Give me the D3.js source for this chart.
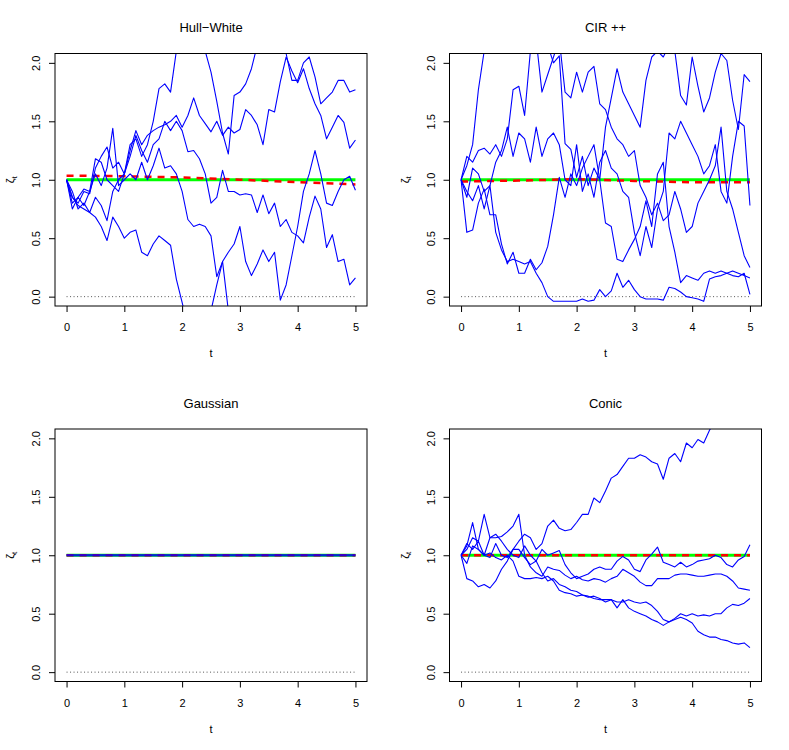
<!DOCTYPE html>
<html>
<head>
<meta charset="UTF-8">
<title>Simulated paths of the state-price deflator</title>
<script src="https://d3js.org/d3.v7.min.js"></script>
<style>
  body { margin: 0; background: #fff; }
  text { font-family: "Liberation Sans", Arial, Helvetica, sans-serif; fill: #000; }
  .tick text { font-size: 11px; }
  .title { font-size: 13px; text-anchor: middle; }
  .axis-label { font-size: 11px; }
</style>
</head>
<body>
<div id="chart"></div>
<script>
// time grid of the simulated paths
const times = [0, 0.1, 0.2, 0.3, 0.4, 0.5, 0.6, 0.7, 0.8, 0.9,
               1.0, 1.1, 1.2, 1.3, 1.4, 1.5, 1.6, 1.7, 1.8, 1.9,
               2.0, 2.1, 2.2, 2.3, 2.4, 2.5, 2.6, 2.7, 2.8, 2.9,
               3.0, 3.1, 3.2, 3.3, 3.4, 3.5, 3.6, 3.7, 3.8, 3.9,
               4.0, 4.1, 4.2, 4.3, 4.4, 4.5, 4.6, 4.7, 4.8, 4.9, 5.0];
const meanTimes = [0, 1, 2, 3, 4, 5];
const flatTimes = [0, 5];

const xTicks = [0, 1, 2, 3, 4, 5];
const yTicks = [0, 0.5, 1, 1.5, 2];

// Hull-White
const hullWhite1 = [1.0, 0.85, 0.8, 0.9, 0.88, 1.1, 1.2, 1.28, 1.1, 1.15, 1.05, 1.3, 1.35, 1.2, 1.3, 1.5, 1.78, 1.82, 1.75, 2.1, 2.4, 2.5, 2.45, 2.3, 2.1, 1.92, 1.67, 1.4, 1.22, 1.72, 1.75, 1.82, 1.95, 2.15, 2.3, 2.35, 2.25, 2.15, 2.08, 1.85, 1.85, 2.0, 2.05, 1.88, 1.65, 1.7, 1.75, 1.85, 1.85, 1.75, 1.77];
const hullWhite2 = [1.0, 0.8, 0.85, 0.78, 0.9, 1.18, 1.15, 1.0, 0.95, 0.9, 1.05, 1.25, 1.42, 1.3, 1.38, 1.42, 1.45, 1.47, 1.5, 1.55, 1.45, 1.55, 1.7, 1.55, 1.48, 1.41, 1.5, 1.38, 1.45, 1.4, 1.43, 1.6, 1.55, 1.47, 1.3, 1.6, 1.58, 1.84, 2.05, 1.93, 1.83, 1.95, 1.78, 1.65, 1.55, 1.35, 1.45, 1.55, 1.49, 1.27, 1.34];
const hullWhite3 = [1.0, 0.9, 0.75, 0.8, 0.72, 0.85, 0.78, 0.65, 0.9, 1.0, 1.05, 1.2, 1.38, 1.25, 1.15, 1.3, 1.35, 1.5, 1.42, 1.5, 1.42, 1.24, 1.25, 1.18, 1.05, 0.8, 0.85, 1.08, 0.9, 0.9, 0.87, 0.88, 0.87, 0.72, 0.87, 0.71, 0.8, 0.6, 0.66, 0.55, 0.52, 0.46, 0.68, 0.86, 0.75, 0.42, 0.53, 0.3, 0.32, 0.1, 0.16];
const hullWhite4 = [1.0, 0.75, 0.85, 0.92, 0.9, 1.05, 0.95, 1.1, 1.44, 0.95, 1.0, 1.05, 1.0, 1.15, 1.0, 1.12, 1.27, 1.1, 1.12, 1.05, 0.9, 0.66, 0.6, 0.62, 0.6, 0.52, 0.17, 0.3, -0.12, -0.3, -0.42, -0.5, -0.45, -0.6, -0.7, -0.65, -0.8, -0.9, -0.85, -0.95, -1.0, -1.1, -1.05, -1.2, -1.15, -1.3, -1.25, -1.4, -1.35, -1.45, -1.5];
const hullWhite5 = [1.0, 0.85, 0.78, 0.75, 0.72, 0.68, 0.6, 0.48, 0.68, 0.6, 0.5, 0.55, 0.57, 0.38, 0.35, 0.45, 0.52, 0.48, 0.44, 0.15, -0.05, -0.25, -0.35, -0.3, -0.25, -0.12, 0.1, 0.3, 0.38, 0.45, 0.6, 0.3, 0.18, 0.28, 0.4, 0.3, 0.38, -0.03, 0.1, 0.35, 0.6, 0.9, 1.05, 1.25, 1.05, 0.8, 0.78, 0.9, 1.0, 1.03, 0.91];
const hullWhiteMean = [1.035, 1.03, 1.02, 1.0, 0.98, 0.96];

// CIR ++
const cir1 = [1.0, 1.12, 1.3, 1.77, 2.1, 2.3, 2.45, 2.55, 2.5, 2.4, 2.45, 2.35, 2.3, 2.2, 2.25, 2.15, 2.0, 2.06, 1.31, 1.26, 1.02, 1.2, 0.95, 1.1, 1.0, 1.45, 1.7, 1.95, 1.75, 1.65, 1.55, 1.45, 1.85, 2.05, 2.1, 2.05, 2.15, 2.1, 1.72, 1.64, 2.05, 1.8, 1.58, 1.7, 1.92, 2.08, 2.02, 1.68, 1.43, 1.9, 1.84];
const cir2 = [1.0, 1.2, 1.15, 1.25, 1.27, 1.22, 1.3, 1.2, 1.35, 1.77, 1.8, 1.55, 2.1, 2.2, 1.75, 1.9, 2.05, 2.2, 1.75, 1.7, 1.92, 1.75, 1.92, 1.97, 1.65, 1.6, 1.45, 1.35, 1.3, 1.2, 1.25, 0.95, 0.85, 0.7, 0.8, 0.65, 0.7, 0.9, 0.75, 0.55, 0.6, 0.8, 0.9, 1.0, 1.12, 1.45, 0.9, 0.75, 0.55, 0.35, 0.25];
const cir3 = [1.0, 0.85, 1.1, 1.05, 0.9, 0.95, 1.15, 1.25, 1.45, 1.2, 1.4, 1.35, 1.15, 1.45, 1.2, 1.35, 1.4, 1.3, 1.0, 0.95, 1.3, 0.9, 1.05, 0.85, 1.15, 1.25, 1.1, 1.05, 0.9, 0.85, 0.55, 0.35, 0.6, 0.42, 0.75, 0.9, 1.4, 1.35, 1.5, 1.4, 1.3, 1.2, 1.05, 1.12, 1.3, 0.9, 0.8, 1.2, 1.5, 1.46, 0.78];
const cir4 = [1.0, 0.9, 0.82, 0.95, 0.75, 0.95, 0.55, 0.4, 0.3, 0.32, 0.3, 0.28, 0.3, 0.2, 0.12, 0.0, -0.04, -0.04, -0.04, -0.04, -0.04, -0.02, -0.04, -0.03, 0.06, 0.0, 0.05, 0.2, 0.08, 0.14, 0.06, 0.0, -0.02, -0.02, -0.02, -0.03, 0.08, 0.07, 0.04, 0.0, -0.01, -0.02, -0.04, 0.15, 0.17, 0.18, 0.2, 0.18, 0.17, 0.2, 0.02];
const cir5 = [1.0, 0.55, 0.57, 0.8, 0.92, 0.7, 0.7, 0.45, 0.28, 0.38, 0.2, 0.2, 0.32, 0.23, 0.29, 0.43, 0.7, 1.02, 0.85, 1.05, 0.95, 1.1, 1.2, 1.3, 1.0, 0.63, 0.6, 0.32, 0.3, 0.4, 0.49, 0.6, 0.82, 0.6, 1.05, 1.15, 0.6, 0.38, 0.12, 0.18, 0.16, 0.14, 0.2, 0.22, 0.2, 0.22, 0.2, 0.22, 0.2, 0.18, 0.16];
const cirMean = [0.985, 0.993, 1.005, 0.99, 0.978, 0.978];

// Gaussian: every path stays at one
const gaussian1 = [1.0, 1.0];
const gaussian2 = [1.0, 1.0];
const gaussian3 = [1.0, 1.0];
const gaussian4 = [1.0, 1.0];
const gaussian5 = [1.0, 1.0];
const gaussianMean = [1.0, 1.0];

// Conic
const conic1 = [1.0, 0.8, 0.78, 0.73, 0.75, 0.72, 0.78, 0.88, 0.95, 1.05, 1.12, 1.18, 1.15, 1.05, 1.1, 1.25, 1.3, 1.23, 1.21, 1.22, 1.28, 1.35, 1.35, 1.49, 1.45, 1.55, 1.66, 1.69, 1.76, 1.83, 1.83, 1.86, 1.84, 1.8, 1.78, 1.65, 1.83, 1.87, 1.8, 1.96, 1.92, 1.99, 1.96, 2.07, 2.15, 2.2, 2.28, 2.3, 2.38, 2.45, 2.5];
const conic2 = [1.0, 1.1, 1.05, 1.12, 1.0, 1.15, 1.18, 1.12, 1.05, 1.0, 0.98, 1.08, 1.0, 0.95, 1.05, 1.0, 1.02, 1.04, 0.92, 0.85, 0.8, 0.82, 0.84, 0.88, 0.9, 0.88, 0.88, 0.95, 0.99, 0.96, 0.88, 0.86, 0.96, 1.01, 1.07, 0.94, 0.92, 0.9, 0.94, 0.9, 0.92, 0.95, 0.96, 0.97, 1.0, 0.98, 0.92, 0.9, 0.96, 0.99, 1.09];
const conic3 = [1.0, 1.05, 1.15, 1.12, 1.35, 1.15, 1.15, 1.16, 1.2, 1.25, 1.35, 1.0, 0.9, 0.85, 0.82, 0.9, 0.88, 0.87, 0.83, 0.8, 0.82, 0.79, 0.78, 0.8, 0.79, 0.77, 0.8, 0.82, 0.88, 0.85, 0.82, 0.77, 0.74, 0.74, 0.8, 0.8, 0.8, 0.83, 0.84, 0.84, 0.83, 0.82, 0.82, 0.83, 0.84, 0.84, 0.82, 0.78, 0.72, 0.71, 0.7];
const conic4 = [1.0, 1.08, 1.28, 1.05, 1.0, 0.98, 1.1, 1.0, 0.98, 1.05, 1.05, 0.98, 0.92, 0.95, 0.85, 0.78, 0.8, 0.75, 0.73, 0.7, 0.69, 0.66, 0.65, 0.63, 0.62, 0.62, 0.62, 0.6, 0.6, 0.62, 0.6, 0.59, 0.6, 0.57, 0.52, 0.45, 0.43, 0.46, 0.5, 0.48, 0.5, 0.48, 0.49, 0.48, 0.5, 0.5, 0.55, 0.58, 0.57, 0.59, 0.63];
const conic5 = [1.0, 0.93, 1.08, 1.05, 1.0, 1.02, 0.98, 0.96, 1.0, 0.95, 0.82, 0.8, 0.8, 0.81, 0.8, 0.82, 0.78, 0.7, 0.68, 0.67, 0.65, 0.66, 0.64, 0.65, 0.63, 0.6, 0.62, 0.55, 0.62, 0.55, 0.52, 0.5, 0.48, 0.45, 0.43, 0.4, 0.43, 0.45, 0.47, 0.45, 0.42, 0.35, 0.32, 0.3, 0.3, 0.28, 0.27, 0.25, 0.24, 0.25, 0.21];
const conicMean = [1.0, 1.0, 1.0, 1.0, 1.0, 1.0];

const panels = [
  {title: "Hull\u2212White", col: 0, row: 0, t: times, paths: [hullWhite1, hullWhite2, hullWhite3, hullWhite4, hullWhite5], meanT: meanTimes, mean: hullWhiteMean, blueWidth: 1.1, blueOpacity: 1},
  {title: "CIR ++", col: 1, row: 0, t: times, paths: [cir1, cir2, cir3, cir4, cir5], meanT: meanTimes, mean: cirMean, blueWidth: 1.1, blueOpacity: 1},
  {title: "Gaussian", col: 0, row: 1, t: flatTimes, paths: [gaussian1, gaussian2, gaussian3, gaussian4, gaussian5], meanT: flatTimes, mean: gaussianMean, blueWidth: 2.2, blueOpacity: 0.3},
  {title: "Conic", col: 1, row: 1, t: times, paths: [conic1, conic2, conic3, conic4, conic5], meanT: meanTimes, mean: conicMean, blueWidth: 1.1, blueOpacity: 1}
];

const width = 789, height = 750;
const colStep = 394.5, rowStep = 375.5;
const box = {left: 55, right: 367, top: 53.5, bottom: 306};

const svg = d3.select("#chart")
  .append("svg")
    .attr("width", width)
    .attr("height", height);

const x = d3.scaleLinear().domain([-0.2, 5.2]).range([box.left, box.right]);
const y = d3.scaleLinear().domain([-0.08, 2.08]).range([box.bottom, box.top]);

panels.forEach((p, k) => {
  const g = svg.append("g")
    .attr("transform", `translate(${p.col * colStep},${p.row * rowStep})`);

  g.append("clipPath")
      .attr("id", "clip" + k)
    .append("rect")
      .attr("x", box.left)
      .attr("y", box.top)
      .attr("width", box.right - box.left)
      .attr("height", box.bottom - box.top);

  const plot = g.append("g").attr("clip-path", `url(#clip${k})`);

  // zero reference
  plot.append("path")
    .datum([0, 0])
    .attr("d", d3.line().x((d, i) => x(flatTimes[i])).y(d => y(d)))
    .attr("fill", "none")
    .attr("stroke", "#555")
    .attr("stroke-width", 1)
    .attr("stroke-dasharray", "1,2.5");

  // level one
  plot.append("path")
    .datum([1, 1])
    .attr("d", d3.line().x((d, i) => x(flatTimes[i])).y(d => y(d)))
    .attr("fill", "none")
    .attr("stroke", "#00ff00")
    .attr("stroke-width", 3);

  // mean of the simulation
  plot.append("path")
    .datum(p.mean)
    .attr("d", d3.line().x((d, i) => x(p.meanT[i])).y(d => y(d)))
    .attr("fill", "none")
    .attr("stroke", "#ff0000")
    .attr("stroke-width", 2.5)
    .attr("stroke-dasharray", "7,6");

  // paths
  plot.selectAll(".path")
    .data(p.paths)
    .enter()
    .append("path")
      .attr("class", "path")
      .attr("d", d3.line().x((d, i) => x(p.t[i])).y(d => y(d)))
      .attr("fill", "none")
      .attr("stroke", "#0000ff")
      .attr("stroke-opacity", p.blueOpacity)
      .attr("stroke-width", p.blueWidth)
      .attr("stroke-linejoin", "round");

  // box
  g.append("rect")
    .attr("x", box.left)
    .attr("y", box.top)
    .attr("width", box.right - box.left)
    .attr("height", box.bottom - box.top)
    .attr("fill", "none")
    .attr("stroke", "#000")
    .attr("stroke-width", 1);

  // x axis
  const xa = g.append("g")
    .attr("transform", `translate(0,${box.bottom})`)
    .call(d3.axisBottom(x).tickValues(xTicks).tickFormat(d3.format("d")).tickSize(6));
  xa.select(".domain").remove();
  xa.selectAll("line").attr("stroke", "#000");
  xa.selectAll("text").attr("y", 25).attr("dy", 0).attr("fill", "#000");

  // y axis
  const ya = g.append("g")
    .attr("transform", `translate(${box.left},0)`)
    .call(d3.axisLeft(y).tickValues(yTicks).tickFormat(d3.format(".1f")).tickSize(6));
  ya.select(".domain").remove();
  ya.selectAll("line").attr("stroke", "#000");
  ya.selectAll("text")
    .attr("transform", "rotate(-90)")
    .attr("x", 0)
    .attr("y", -15)
    .attr("dy", 0)
    .attr("text-anchor", "middle")
    .attr("fill", "#000");

  // title
  g.append("text")
    .attr("class", "title")
    .attr("x", (box.left + box.right) / 2)
    .attr("y", 32)
    .text(p.title);

  // x label
  g.append("text")
    .attr("class", "axis-label")
    .attr("text-anchor", "middle")
    .attr("x", (box.left + box.right) / 2)
    .attr("y", 357)
    .text("t");

  // y label: zeta with subscript t
  const yl = g.append("text")
    .attr("class", "axis-label")
    .attr("text-anchor", "middle")
    .attr("transform", `translate(14,${(box.top + box.bottom) / 2}) rotate(-90)`);
  yl.append("tspan").text("\u03B6");
  yl.append("tspan").attr("font-size", "8px").attr("dy", 2.5).text("t");
});
</script>
</body>
</html>
